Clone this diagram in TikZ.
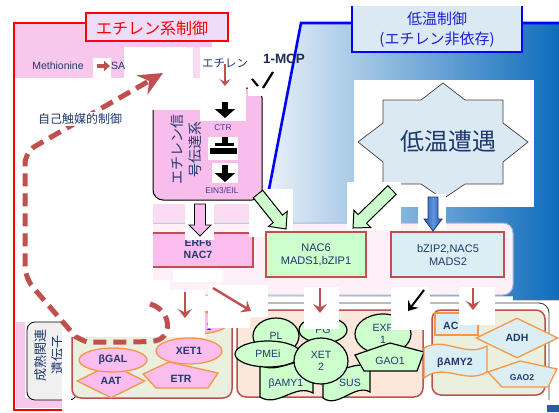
\documentclass[tikz,border=0pt]{standalone}
\usepackage{fontspec}
\setmainfont{Liberation Sans}
\newfontfamily\jp{Noto Sans CJK JP}
\usetikzlibrary{arrows.meta,calc,shapes.geometric}
\definecolor{navy}{RGB}{31,56,110}
\definecolor{navyb}{RGB}{60,55,140}
\definecolor{pinkreg}{RGB}{248,200,236}
\definecolor{pinklight}{RGB}{250,220,242}
\definecolor{lav}{RGB}{238,220,248}
\definecolor{bluebox}{RGB}{219,234,242}
\definecolor{ethpink}{RGB}{249,189,236}
\definecolor{genepink}{RGB}{251,188,238}
\definecolor{geneorange}{RGB}{247,150,70}
\definecolor{genegreen}{RGB}{204,255,204}
\definecolor{geneblue}{RGB}{219,238,244}
\definecolor{panelred}{RGB}{192,80,77}
\definecolor{panelbeige}{RGB}{235,240,222}
\definecolor{panelpeach}{RGB}{252,232,218}
\definecolor{bandpink}{RGB}{253,240,248}
\definecolor{bandline}{RGB}{165,180,215}
\definecolor{arrred}{RGB}{192,80,77}
\definecolor{bluelight}{RGB}{236,242,249}
\definecolor{bluedark}{RGB}{14,108,188}
\definecolor{titleblue}{RGB}{30,30,215}
\definecolor{graybox}{RGB}{240,240,240}
\definecolor{arrblue}{RGB}{40,90,170}
\definecolor{arrbluel}{RGB}{95,150,220}
\definecolor{arrblueline}{RGB}{25,55,120}
\definecolor{mcpnavy}{RGB}{31,45,90}

\newcommand\blkarr[6]{%
  \coordinate (ba-s) at (#2);
  \coordinate (ba-e) at (#3);
  \coordinate (ba-h) at ($(ba-e)!#6!(ba-s)$);
  \draw[#1] ($(ba-s)!#4!90:(ba-e)$) -- ($(ba-h)!#4!-90:(ba-s)$) -- ($(ba-h)!#5!-90:(ba-s)$) -- (ba-e) -- ($(ba-h)!#5!90:(ba-s)$) -- ($(ba-h)!#4!90:(ba-s)$) -- ($(ba-s)!#4!-90:(ba-e)$) -- cycle;}

\begin{document}
\begin{tikzpicture}[x=1pt,y=-1pt,
  mask/.style={fill=white,draw=none},
  redline/.style={draw=red,line width=2.6pt},
  blueedge/.style={draw=blue,line width=2.6pt},
  boxb/.style={draw=panelred,line width=1.6pt,inner sep=0},
  panel/.style={draw=panelred,line width=1.5pt,rounded corners=9pt,inner sep=0},
  genepk/.style={draw=geneorange,fill=genepink,line width=1.3pt},
  genegr/.style={draw=black,fill=genegreen,line width=1.2pt},
  genebl/.style={draw=geneorange,fill=geneblue,line width=1.3pt},
  lbl/.style={text=navy,inner sep=0,align=center,font=\fontsize{10.5}{12}\selectfont},
  lblb/.style={text=navy,inner sep=0,align=center,font=\fontsize{10.5}{12}\selectfont\bfseries},
  small/.style={text=navyb,inner sep=0,font=\fontsize{8.3}{9}\selectfont},
  redarr/.style={draw=arrred,line width=2.4pt,-{Stealth[length=9pt,width=14pt,inset=3.5pt]}},
  blkarrow/.style={draw=black,line width=2pt,-{Stealth[length=9pt,width=13pt,inset=3.5pt]}},
  fatarr/.style={draw=black,line width=6pt,-{Triangle[length=9pt,width=20pt]}},
  gshape/.style={ellipse,inner sep=0},
  pinkarr/.style={draw=black,line width=0.9pt,fill=genepink},
  greenarr/.style={draw=black,line width=1pt,fill=genegreen},
  bluearr/.style={draw=arrblueline,line width=0.8pt,left color=arrblue,right color=arrblue,middle color=arrbluel},
]
\useasboundingbox (0,0) rectangle (559,412);
\fill[white] (0,0) rectangle (559,412);

% ---------- blue (low temperature) region ----------
\fill[left color=bluelight,right color=bluedark] (301,23) -- (559,23) -- (559,300) -- (513,300) -- (513,296) -- (264,296) -- (266,205) -- cycle;
\draw[blueedge] (266,205) -- (301,23) -- (559,23);

% ---------- pink (ethylene) region ----------
\fill[pinkreg] (14,23) rectangle (212,78);
\fill[pinkreg] (15.5,322) rectangle (25,408);
\fill[pinkreg] (15.5,398) rectangle (62,408);
\draw[redline] (86,23) -- (14,23) -- (14,410) -- (62,410);

% ---------- titles ----------
\node[draw=red,line width=2.6pt,fill=lav,minimum width=142pt,minimum height=28pt,inner sep=0] (ethtitlebox) at (157,27) {};
\node[text=red,inner sep=0,font=\jp\fontsize{16}{18}\selectfont] (ethtitle) at (152,28) {エチレン系制御};
\fill[bluebox] (352,6) rectangle (522,52);
\draw[draw=blue,line width=2pt] (352,6) -- (352,52) -- (522,52) -- (522,6);
\node[text=titleblue,inner sep=0,align=center,font=\jp\fontsize{15}{20}\selectfont] (coldtitle) at (437,30) {低温制御\\(エチレン非依存)};

% ---------- star ----------
\fill[white] (354,80) rectangle (534,207);
\draw[fill=bluebox,draw=black!75,line width=0.7pt] (443,83) -- (465,100) -- (503,100) -- (503,123) -- (528,142) -- (503,162) -- (503,184) -- (465,184) -- (443,199) -- (421,184) -- (383,184) -- (383,162) -- (358,142) -- (383,123) -- (383,100) -- (421,100) -- cycle;
\node[text=navy,inner sep=0,font=\jp\fontsize{24}{26}\selectfont] (cold) at (448,141) {低温遭遇};

% ---------- middle band ----------
\begin{scope}
\clip (153,200) rectangle (559,320);
\filldraw[fill=bandpink,draw=bandline,line width=1pt,rounded corners=10pt] (130,223) rectangle (513,295);
\end{scope}
\fill[pinklight] (153,204) rectangle (255,222);

% ERF6 box (clipped at left)
\begin{scope}
\clip (153,200) rectangle (300,300);
\node[boxb,fill=genepink,minimum width=110pt,minimum height=34pt] (erfbox) at (198,250) {};
\end{scope}
\node[lblb] (erf) at (198,249) {ERF6\\NAC7};

% white patches around block arrows
\fill[mask] (185,203) rectangle (214,240);
\fill[mask] (173,269) rectangle (223,282);
\fill[mask] (249,189) rectangle (293,237);
\fill[mask] (347,182) rectangle (401,230);
\fill[mask] (418,194) rectangle (446,230);

% ---------- ethylene signalling box ----------
\node[draw=black,fill=ethpink,line width=1pt,rounded corners=10pt,minimum width=109pt,minimum height=112pt,inner sep=0] (ethbox) at (207.5,144) {};
\node[rotate=90,text=navy,inner sep=0,align=center,font=\jp\fontsize{14}{18}\selectfont] (ethsig) at (186,149) {エチレン信\\号伝達系};
\node[small] (ctr) at (223,128) {CTR};
\node[small] (ein2) at (223,157) {EIN2};
\node[small] (ein3) at (222,191) {EIN3/EIL};

% patches at top
\fill[mask] (124,47) rectangle (193,110);
\fill[pinklight] (193,47) rectangle (200,78);
\fill[mask] (193,78) rectangle (205,110);
\fill[mask] (200,47) rectangle (246,121);
\fill[mask] (93,58) rectangle (111,78);
\fill[mask] (248,72) rectangle (278,96);
\fill[mask] (208,137) rectangle (238,160);
\fill[mask] (212,163) rectangle (238,183);

% texts top
\node[lbl] (meth) at (58,66) {Methionine};
\node[lbl,anchor=west] (sam) at (111,66) {SA};
\node[text=navy,inner sep=0,font=\jp\fontsize{11.5}{13}\selectfont] (eth) at (225,63) {エチレン};
\node[text=mcpnavy,inner sep=0,font=\fontsize{13.5}{15}\selectfont\bfseries] (mcp) at (284,59) {1-MCP};

% small arrows top
\draw[draw=arrred,line width=4pt,-{Triangle[length=6pt,width=10pt]}] ([xshift=13pt]meth.east) -- ([xshift=-1pt]sam.west);
\coordinate (ethdown) at (225,86);
\draw[draw=arrred,line width=2.2pt,-{Stealth[length=7pt,width=11pt,inset=3pt]}] ([yshift=4pt]eth.south) -- (ethdown);
\coordinate (ctrtop) at (225,118);
\draw[fatarr] (225,102) -- (ctrtop);
\coordinate (ein3top) at (225,182);
\draw[fatarr] (225,165) -- (ein3top);
% T-bar (inhibition) inside box
\fill[black] (222,137) rectangle (228,146);
\fill[black] (215,143) rectangle (234,146);
\fill[black] (210,148) rectangle (237,154);
% 1-MCP inhibition strokes
\draw[black,line width=2.2pt] (252,79) -- (258,86);
\draw[black,line width=2.2pt] (273,72) -- (263,88);

% ---------- TF boxes ----------
\node[boxb,fill=genegreen,minimum width=100pt,minimum height=45pt] (nac6box) at (316,254.5) {};
\node[text=navy,inner sep=0,align=center,font=\fontsize{11}{13}\selectfont] (nac6) at (316,255) {NAC6\\MADS1,bZIP1};
\node[boxb,fill=geneblue,minimum width=113pt,minimum height=45pt] (bzipbox) at (447.5,254.5) {};
\node[text=navy,inner sep=0,align=center,font=\fontsize{11}{13}\selectfont] (bzip) at (448,255) {bZIP2,NAC5\\MADS2};

% block arrows
\blkarr{pinkarr}{200,204}{200,236}{5.5pt}{11pt}{11pt}
\blkarr{greenarr}{258,194}{286,229}{6pt}{12pt}{13pt}
\blkarr{greenarr}{392,190}{353,228}{6pt}{12pt}{13pt}
\blkarr{bluearr}{433,197}{433,231}{5pt}{9pt}{12pt}

% ---------- bottom gene panels ----------
\draw[black!75,line width=0.9pt,rounded corners=10pt] (250,303) -- (549,303) -- (549,400);
\node[draw=black,line width=0.8pt,fill=graybox,rounded corners=8pt,minimum width=50pt,minimum height=78pt,inner sep=0] (grayb) at (52,361) {};
\node[rotate=90,text=navy,inner sep=0,align=center,font=\jp\fontsize{13}{17}\selectfont] (mat) at (49,355) {成熟関連\\遺伝子};
\node[panel,fill=panelbeige,minimum width=160pt,minimum height=86pt] (pan1) at (152,355) {};
\node[panel,fill=panelpeach,minimum width=186pt,minimum height=87pt] (pan2) at (330,353.5) {};
\node[panel,fill=panelbeige,minimum width=113pt,minimum height=85pt] (pan3) at (488.5,352.5) {};

% panel 1
\node[gshape,genepk,minimum width=66pt,minimum height=22pt] (g1) at (195,323) {};
\node[lbl] (g1t) at (209,327) {1};
\node[diamond,genepk,minimum width=68pt,minimum height=34pt,inner sep=0,lblb] (aat) at (111,381) {AAT};
\draw[genepk] (143,374) -- (169,362) -- (218,373) -- (208,388) -- (156,388) -- cycle;
\node[lblb] (etr) at (181,379) {ETR};
\node[gshape,genepk,minimum width=66pt,minimum height=26pt,lblb] (xet1) at (189,351) {XET1};
\node[gshape,genepk,minimum width=68pt,minimum height=24pt,lblb] (bgal) at (113,360) {βGAL};

% panel 2
\draw[genegr] (260,365) .. controls (278,375) and (295,355) .. (313,365) -- (313,393) .. controls (295,383) and (278,408) .. (260,397) -- cycle;
\draw[genegr] (323,368) .. controls (338,378) and (355,358) .. (370,368) -- (370,392) .. controls (355,383) and (338,409) .. (323,398) -- cycle;
\node[gshape,genegr,minimum width=46pt,minimum height=36pt,lbl] (pl) at (276,336) {PL};
\node[gshape,genegr,minimum width=48pt,minimum height=26pt,lbl] (pg) at (323,330) {PG};
\node[gshape,genegr,minimum width=56pt,minimum height=40pt,lbl] (exp1) at (383,334) {EXP\\1};
\node[gshape,genegr,minimum width=66pt,minimum height=26pt,lbl] (pmei) at (268,354) {PMEi};
\node[gshape,genegr,minimum width=54pt,minimum height=46pt,lbl] (xet2) at (321,361) {XET\\2};
\draw[genegr] (390,343) -- (424,352) -- (417,371) -- (364,371) -- (355,355) -- cycle;
\node[lbl] (gao1) at (390,361) {GAO1};
\node[lbl] (bamy1) at (286,384) {βAMY1};
\node[lbl] (sus) at (350,383) {SUS};

% panel 3
\node[genebl,minimum width=43pt,minimum height=22pt,inner sep=0] (aco) at (456.5,324) {};
\node[lblb,anchor=west] (acot) at (443,326) {AC};
\node[diamond,genebl,minimum width=82pt,minimum height=40pt,inner sep=0,lblb] (adh) at (517,338) {ADH};
\draw[genebl] (424,348) .. controls (445,336) and (465,358) .. (487,346) -- (487,372) .. controls (465,385) and (445,362) .. (424,378) -- cycle;
\node[lblb] (bamy2) at (455,363) {βAMY2};
\draw[genebl] (488,372) -- (520,361) -- (557,369) -- (548,387) -- (502,387) -- cycle;
\node[text=navy,inner sep=0,font=\fontsize{8.5}{9}\selectfont\bfseries] (gao2) at (522,378) {GAO2};

% bottom white patches
\fill[mask] (62,280) rectangle (170,337);
\fill[mask] (62,318) rectangle (71,401);
\fill[mask] (168,290) rectangle (205,337);
\fill[mask] (208,285) rectangle (250,328);
\fill[mask] (250,285) rectangle (268,317);
\fill[mask] (304,287) rectangle (339,329);
\fill[mask] (391,287) rectangle (430,330);
\fill[mask] (459,287) rectangle (495,325);

% bottom arrows
\coordinate (a1s) at (185,292); \coordinate (a1e) at (185,318);
\coordinate (a2s) at (213,288); \coordinate (a2e) at (251,311);
\coordinate (a3s) at (320,288); \coordinate (a3e) at (320,313);
\coordinate (a4s) at (424,290); \coordinate (a4e) at (408,311);
\coordinate (a5s) at (473,288); \coordinate (a5e) at (473,310);
\draw[redarr] (a1s) -- (a1e);
\draw[redarr] (a2s) -- (a2e);
\draw[redarr] (a3s) -- (a3e);
\draw[blkarrow] (a4s) -- (a4e);
\draw[redarr] (a5s) -- (a5e);

% autocatalytic dashed arrow
\coordinate (autoend) at (163,73);
\draw[draw=arrred,line width=5pt,dash pattern=on 13pt off 7pt,rounded corners=12pt,-{Stealth[length=24pt,width=22pt,inset=8pt]}]
  (150,304) .. controls (172,310) and (174,340) .. (140,342) -- (100,342) .. controls (85,342) and (75,336) .. (68,328) -- (25,278) -- (25,152) -- (autoend);
\node[fill=white,inner sep=1pt,text=navy,font=\jp\fontsize{12}{14}\selectfont] (auto) at (80,119) {自己触媒的制御};

\fill[arrblue] (547,405) rectangle (559,412);
\end{tikzpicture}
\end{document}
